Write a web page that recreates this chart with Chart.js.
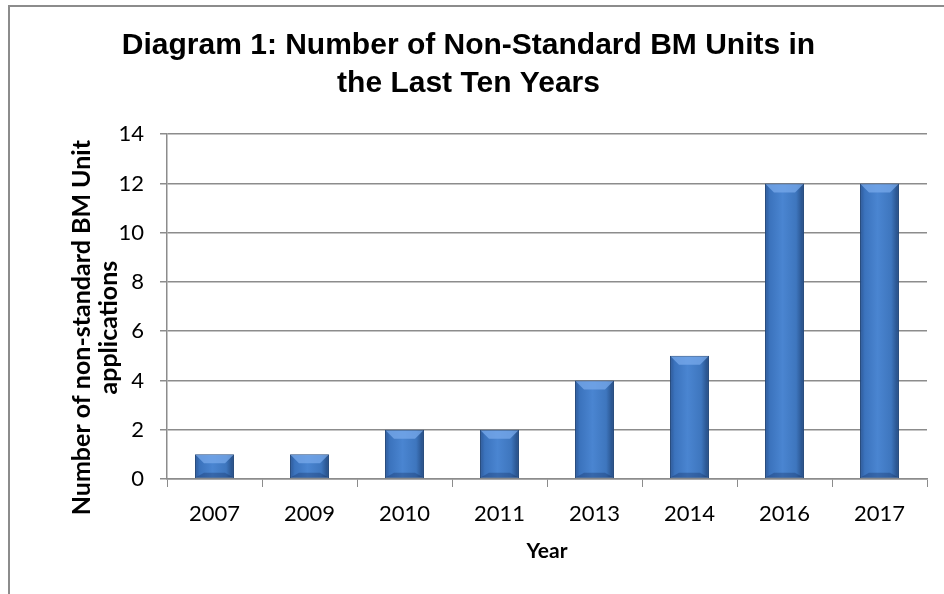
<!DOCTYPE html>
<html>
<head>
<meta charset="utf-8">
<script src="https://cdn.jsdelivr.net/npm/chart.js@4.4.1/dist/chart.umd.min.js"></script>
<style>
  body { margin: 0; background: #fff; }
  #wrap { position: relative; width: 944px; height: 594px; overflow: hidden; }
  #frame { position: absolute; left: 8px; top: 5px; width: 1000px; height: 700px; border: 2px solid #8c8c8c; }
  canvas { position: absolute; left: 0; top: 0; }
</style>
</head>
<body>
<div id="wrap">
  <div id="frame"></div>
  <canvas id="barChart" width="944" height="594"></canvas>
</div>
<script>
const years = ['2007', '2009', '2010', '2011', '2013', '2014', '2016', '2017'];
const applications = [1, 1, 2, 2, 4, 5, 12, 12];
const yMin = 0;
const yMax = 14;
const yStep = 2;
const yTitle = ['Number of non-standard BM Unit', 'applications'];

const barPct = 0.41;

// horizontal gradient so every bar looks a bit rounded, like the office chart
function barFill(ctx) {
  const chart = ctx.chart;
  const xs = chart.scales.x;
  if (!chart.chartArea || !xs || ctx.dataIndex === undefined) return '#3f77bf';
  const cx = xs.getPixelForValue(ctx.dataIndex);
  const half = xs.width / years.length * barPct / 2;
  const g = chart.ctx.createLinearGradient(cx - half, 0, cx + half, 0);
  g.addColorStop(0, '#2c5796');
  g.addColorStop(0.12, '#3b73bd');
  g.addColorStop(0.45, '#4a85d1');
  g.addColorStop(0.8, '#3e76be');
  g.addColorStop(1, '#23497f');
  return g;
}

const bevelPlugin = {
  id: 'bevel',
  afterDatasetsDraw(chart) {
    const c = chart.ctx;
    chart.getDatasetMeta(0).data.forEach(bar => {
      const p = bar.getProps(['x', 'y', 'base', 'width'], true);
      const l = p.x - p.width / 2, r = p.x + p.width / 2;
      const b = Math.min(9, (p.base - p.y) / 2.5);
      c.save();
      // top face
      c.beginPath();
      c.moveTo(l + 1, p.y + 1); c.lineTo(r - 1, p.y + 1);
      c.lineTo(r - b, p.y + b); c.lineTo(l + b, p.y + b); c.closePath();
      c.fillStyle = 'rgba(120,170,235,0.75)';
      c.fill();
      // bottom face
      c.beginPath();
      c.moveTo(l + 1, p.base - 1); c.lineTo(r - 1, p.base - 1);
      c.lineTo(r - b, p.base - b * 0.6); c.lineTo(l + b, p.base - b * 0.6); c.closePath();
      c.fillStyle = 'rgba(20,50,100,0.35)';
      c.fill();
      c.restore();
    });
  }
};

// the y title sits a little below the middle of the axis in the original
const yTitlePlugin = {
  id: 'yTitle',
  afterDraw(chart) {
    const c = chart.ctx;
    const a = chart.chartArea;
    const midY = (a.top + a.bottom) / 2 + 21;
    c.save();
    c.font = 'bold 25px Lato';
    c.fillStyle = '#000';
    c.textAlign = 'center';
    c.textBaseline = 'middle';
    yTitle.forEach((line, i) => {
      c.save();
      c.translate(a.left - 85 + i * 27, midY);
      c.rotate(-Math.PI / 2);
      c.fillText(line, 0, 0);
      c.restore();
    });
    c.restore();
  }
};

const ctx = document.getElementById('barChart').getContext('2d');
const chart = new Chart(ctx, {
  type: 'bar',
  data: {
    labels: years,
    datasets: [{
      data: applications,
      backgroundColor: barFill,
      borderColor: '#24497c',
      borderWidth: 1,
      borderSkipped: false,
      barPercentage: barPct,
      categoryPercentage: 1
    }]
  },
  options: {
    responsive: false,
    animation: false,
    layout: { padding: { left: 10, right: 17, top: 0, bottom: 30 } },
    plugins: {
      legend: { display: false },
      tooltip: { enabled: false },
      title: {
        display: true,
        text: ['Diagram 1: Number of Non-Standard BM Units in', 'the Last Ten Years'],
        color: '#000',
        font: { family: 'Liberation Sans', size: 30, weight: 'bold', lineHeight: 1.27 },
        padding: { top: 27, bottom: 31 }
      }
    },
    scales: {
      x: {
        grid: { display: true, drawOnChartArea: false, offset: true, tickLength: 8, color: '#8c8c8c' },
        border: { color: '#8c8c8c', width: 1.5 },
        ticks: { color: '#000', font: { family: 'Lato', size: 22 }, padding: 14 },
        title: {
          display: true, text: 'Year', color: '#000',
          font: { family: 'Lato', size: 21, weight: 'bold' }, padding: { top: 0, bottom: 0 }
        },
        afterFit(s) { s.height = 85; }
      },
      y: {
        min: yMin,
        max: yMax,
        ticks: { stepSize: yStep, color: '#000', font: { family: 'Lato', size: 22 }, padding: 16 },
        grid: { color: '#8c8c8c', tickLength: 7, lineWidth: 1.5 },
        border: { color: '#8c8c8c', width: 1.5 },
        afterFit(s) { s.width = 157; }
      }
    }
  },
  plugins: [bevelPlugin, yTitlePlugin]
});
</script>
</body>
</html>
